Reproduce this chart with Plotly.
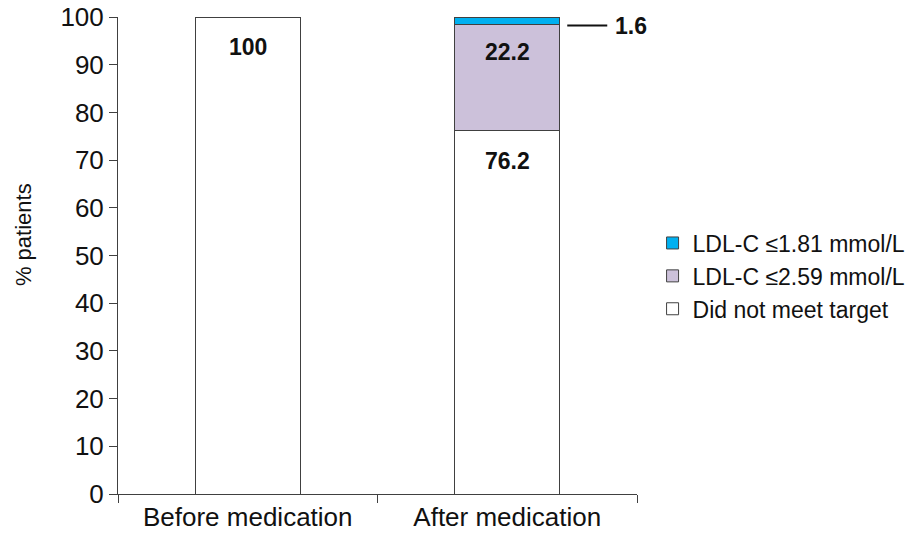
import plotly.graph_objects as go

# data
groups = ["Before medication", "After medication"]
not_met = [100, 76.2]
ldl_259 = [0, 22.2]
ldl_181 = [0, 1.6]
series_names = ["Did not meet target", "LDL-C \u22642.59 mmol/L", "LDL-C \u22641.81 mmol/L"]
series_colors = ["#FFFFFF", "#CCC1DA", "#00B0F0"]
y_ticks = [0, 10, 20, 30, 40, 50, 60, 70, 80, 90, 100]

FONT = "Liberation Sans, Arial, sans-serif"
fig = go.Figure()

# stacked bars, bottom to top
for i, (name, vals) in enumerate(zip(series_names, [not_met, ldl_259, ldl_181])):
    fig.add_trace(go.Bar(
        x=groups, y=vals, name=name,
        marker=dict(color=series_colors[i], line=dict(color="#404040", width=1)),
        width=0.405, legendgroup=name,
    ))

# value labels just below the top of each segment
lbl_font = dict(size=23, color="#111")
fig.add_annotation(x=groups[0], y=not_met[0], text="<b>100</b>", showarrow=False,
                   yanchor="middle", yshift=-30, font=lbl_font)
fig.add_annotation(x=groups[1], y=not_met[1], text="<b>76.2</b>", showarrow=False,
                   yanchor="middle", yshift=-30, font=lbl_font)
fig.add_annotation(x=groups[1], y=not_met[1] + ldl_259[1], text="<b>22.2</b>", showarrow=False,
                   yanchor="middle", yshift=-27, font=lbl_font)

# leader line + label for the thin top segment
top_mid = not_met[1] + ldl_259[1] + ldl_181[1] / 2
fig.add_shape(type="line", xref="x", yref="y", xsizemode="pixel", xanchor=1,
              x0=60, x1=100, y0=top_mid - 1, y1=top_mid - 1,
              line=dict(color="#111", width=2))
fig.add_annotation(x=1, y=top_mid - 1, text="<b>1.6</b>", showarrow=False,
                   xanchor="left", xshift=106, yanchor="middle", font=lbl_font)

# y axis title, placed a little above the plot's middle like the original
fig.add_annotation(xref="paper", yref="paper", x=-0.181, y=0.543, text="% patients",
                   textangle=-90, showarrow=False, xanchor="center", yanchor="middle",
                   font=dict(size=22, color="#111"))

fig.update_layout(
    barmode="stack",
    width=913, height=544,
    margin=dict(l=118, r=276, t=17, b=50, autoexpand=False),
    plot_bgcolor="white", paper_bgcolor="white",
    font=dict(family=FONT, color="#111"),
    legend=dict(x=1.03, y=0.457, xanchor="left", yanchor="middle",
                traceorder="reversed", tracegroupgap=16,
                font=dict(size=23, color="#111")),
    showlegend=True,
)
fig.update_xaxes(
    type="category", range=[-0.5, 1.5], automargin=False,
    showline=True, linecolor="#404040", linewidth=1,
    ticks="outside", tickson="boundaries", ticklen=8, tickcolor="#404040",
    tickfont=dict(size=26, color="#111"), showgrid=False,
)
fig.update_yaxes(
    range=[0, 100], tickvals=y_ticks, automargin=False, ticklabeloverflow="allow",
    showline=True, linecolor="#404040", linewidth=1,
    ticks="outside", ticklen=8, tickcolor="#404040",
    tickfont=dict(size=26, color="#111"), showgrid=False, zeroline=False,
)

# drop the default 8px page margin so the figure sits at the window origin
fig.write_html("out.html", config={"displayModeBar": False},
               post_script="document.body.style.margin='0';")
